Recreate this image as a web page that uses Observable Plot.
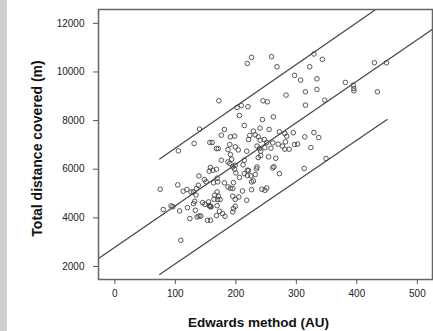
<!DOCTYPE html>
<html>
<head>
<meta charset="utf-8">
<script src="https://cdn.jsdelivr.net/npm/d3@7"></script>
<script src="https://cdn.jsdelivr.net/npm/@observablehq/plot@0.6"></script>
<style>
  html, body { margin: 0; padding: 0; background: #fff; }
  #chart svg { display: block; background: linear-gradient(to right, #cfcfcf 0 7px, #ffffff 7px); }
</style>
</head>
<body>
<div id="chart"></div>
<script>
// Edwards method (AU) vs total distance covered (m)
const edwards = [226,219,259,268,329,343,322,297,307,334,315,334,347,315,283,381,394,395,395,429,449,434,
  245,252,172,202,209,220,206,214,244,262,140,131,105,181,176,191,198,240,255,229,232,237,240,247,223,221,
  272,284,295,282,314,329,337,297,302,324,261,270,277,281,288,258,157,161,168,171,190,199,204,187,218,235,
  239,241,251,248,241,237,214,266,261,263,272,313,349,191,193,190,195,198,200,206,187,199,212,214,221,225,
  229,219,234,235,232,176,158,156,162,168,169,148,151,139,138,119,126,135,163,170,181,187,191,195,196,226,
  205,199,218,226,243,248,251,113,104,75,80,93,96,107,120,130,134,132,130,133,139,142,145,149,155,157,159,
  164,170,124,136,153,158,168,173,165,171,169,178,195,199,109,182,195,169,174,211,219,254,196,281,156,158];
const distance = [10600,10350,10630,10215,10740,10520,10215,9860,9666,9720,9185,9280,8840,8635,9050,9570,9460,9320,9225,10380,10380,9185,
  8815,8775,8815,8540,8620,8570,8210,7800,8045,8155,7650,7060,6755,7635,7400,7330,7360,7690,7635,7565,7415,7330,7195,7220,7390,7220,
  7540,7360,7500,7125,7330,7510,7305,7015,7030,6890,7085,7030,6950,6825,6825,6865,7100,7100,6850,6850,7015,6920,6795,6810,6740,6950,
  6850,6740,7100,6890,6560,6480,6370,6450,6055,6100,5820,6030,6440,6605,6410,6235,6095,6000,5850,5660,6300,6165,6180,5820,5945,5725,
  5520,5740,6015,6095,5780,6370,6070,5920,5960,6000,5630,5575,5480,5725,5340,5165,5065,5205,5440,5480,5440,5270,5215,5205,5450,5480,
  4860,4765,4725,5160,5175,5135,5230,5095,5355,5175,4340,4490,4460,4285,4420,5065,4940,4680,4585,4310,4075,4075,4625,4560,4655,4490,4450,
  4765,4750,3970,4035,3900,3900,4090,4270,4930,4890,5065,4175,4240,4475,3075,4065,4890,4500,4750,5105,5960,6510,4380,7470,4500,4470];

// Regression line and limits (endpoints)
const lineName = ["fit", "fit", "upper", "upper", "lower", "lower"];
const lineX = [-27, 525, 74, 430, 74, 450];
const lineY = [2330, 11755, 6421, 12548, 1670, 8045];

const xTicks = [0, 100, 200, 300, 400, 500];
const yTicks = [2000, 4000, 6000, 8000, 10000, 12000];
const xLabel = "Edwards method (AU)";
const yLabel = "Total distance covered (m)";

const points = edwards.map((x, i) => ({x, y: distance[i]}));
const lines = lineName.map((name, i) => ({name, x: lineX[i], y: lineY[i]}));

const chart = Plot.plot({
  width: 433,
  height: 331,
  marginLeft: 98,
  marginTop: 9,
  marginRight: 1,
  marginBottom: 52,
  style: {fontFamily: "'Liberation Sans', Arial, sans-serif", fontSize: "10px", color: "#222"},
  x: {domain: [-27, 525], label: null},
  y: {domain: [1464, 12570], label: null},
  marks: [
    Plot.axisX({ticks: xTicks, tickSize: 5, tickPadding: 5, label: null, stroke: "#555", fill: "#222", fontSize: 10}),
    Plot.axisY({ticks: yTicks, tickSize: 5, tickPadding: 9, label: null, stroke: "#555", fill: "#222", fontSize: 10, tickFormat: d => String(d)}),
    Plot.line(lines, {x: "x", y: "y", z: "name", stroke: "#444", strokeWidth: 1.2}),
    Plot.dot(points, {x: "x", y: "y", r: 2.3, stroke: "#444", strokeWidth: 0.9, fill: "none"}),
    Plot.frame({stroke: "#666", strokeWidth: 1.5}),
    Plot.text([xLabel], {frameAnchor: "bottom", textAnchor: "middle", dy: 43, dx: -7, lineAnchor: "middle", fontWeight: "bold", fontSize: 13.5, fill: "#111"}),
    Plot.text([yLabel], {frameAnchor: "left", textAnchor: "middle", rotate: -90, dx: -61, dy: 4, lineAnchor: "middle", fontWeight: "bold", fontSize: 14, fill: "#111"})
  ]
});
document.getElementById("chart").append(chart);
</script>
</body>
</html>
